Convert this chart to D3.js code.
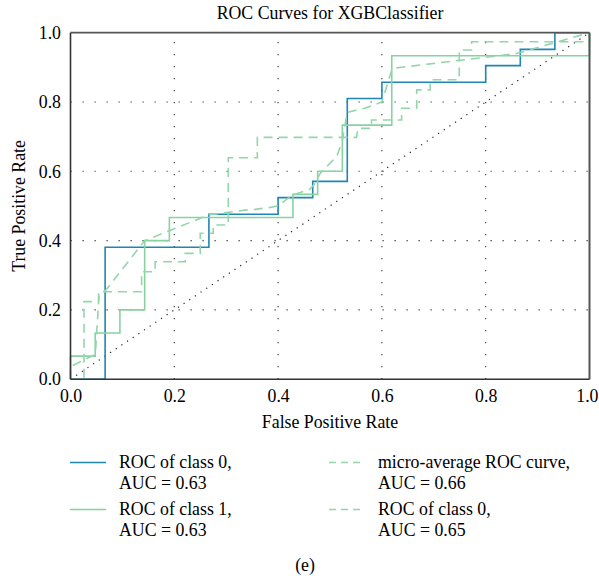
<!DOCTYPE html>
<html>
<head>
<meta charset="utf-8">
<script src="https://cdn.jsdelivr.net/npm/d3@7"></script>
<style>
  html, body { margin: 0; padding: 0; background: #fff; }
  svg { display: block; font-family: "Liberation Serif", "DejaVu Serif", serif; }
</style>
</head>
<body>
<svg id="chart" width="599" height="578"></svg>
<script>
// ---- data ----
const title = "ROC Curves for XGBClassifier";
const xLabel = "False Positive Rate";
const yLabel = "True Positive Rate";
const caption = "(e)";
const tickValues = [0.0, 0.2, 0.4, 0.6, 0.8, 1.0];
const gridValues = [0.2, 0.4, 0.6, 0.8];

const class0Fpr = [0, 0.0667, 0.0667, 0.2667, 0.2667, 0.4, 0.4, 0.4667, 0.4667, 0.5333, 0.5333, 0.6, 0.6, 0.8, 0.8, 0.8667, 0.8667, 0.9333, 0.9333, 1.0];
const class0Tpr = [0, 0, 0.381, 0.381, 0.476, 0.476, 0.524, 0.524, 0.571, 0.571, 0.810, 0.810, 0.857, 0.857, 0.905, 0.905, 0.952, 0.952, 1.0, 1.0];

const class1Fpr = [0, 0, 0.0476, 0.0476, 0.0952, 0.0952, 0.1429, 0.1429, 0.1905, 0.1905, 0.4286, 0.4286, 0.4762, 0.4762, 0.5238, 0.5238, 0.619, 0.619, 1.0, 1.0];
const class1Tpr = [0, 0.0667, 0.0667, 0.1333, 0.1333, 0.2, 0.2, 0.4, 0.4, 0.4667, 0.4667, 0.5333, 0.5333, 0.6, 0.6, 0.7333, 0.7333, 0.9333, 0.9333, 1.0];

const microFpr = [0, 0, 0.025, 0.046, 0.048, 0.055, 0.068, 0.143, 0.266, 0.336, 0.356, 0.385, 0.40, 0.426, 0.461, 0.471, 0.481, 0.503, 0.513, 0.524, 0.533, 0.538, 0.567, 0.60, 0.62, 0.86, 1.0];
const microTpr = [0, 0.036, 0.055, 0.07, 0.075, 0.243, 0.257, 0.40, 0.474, 0.488, 0.49, 0.496, 0.50, 0.53, 0.548, 0.565, 0.594, 0.628, 0.642, 0.69, 0.77, 0.772, 0.782, 0.80, 0.897, 0.94, 1.0];

const macroFpr = [0, 0.026, 0.026, 0.054, 0.054, 0.137, 0.137, 0.163, 0.163, 0.221, 0.221, 0.25, 0.25, 0.275, 0.275, 0.304, 0.304, 0.36, 0.36, 0.551, 0.554, 0.58, 0.58, 0.638, 0.638, 0.667, 0.667, 0.693, 0.693, 0.749, 0.749, 0.773, 0.773, 1.0, 1.0];
const macroTpr = [0, 0, 0.224, 0.224, 0.2525, 0.2525, 0.31, 0.31, 0.339, 0.339, 0.363, 0.363, 0.421, 0.421, 0.445, 0.445, 0.639, 0.639, 0.698, 0.698, 0.724, 0.724, 0.748, 0.748, 0.782, 0.782, 0.835, 0.835, 0.864, 0.864, 0.95, 0.95, 0.974, 0.974, 1.0];

const diagonal = [0, 1];

const seriesNames = ["ROC of class 0,", "ROC of class 1,", "micro-average ROC curve,", "ROC of class 0,"];
const seriesAuc = ["AUC = 0.63", "AUC = 0.63", "AUC = 0.66", "AUC = 0.65"];

// ---- styles ----
const BLUE = "#1f86b3";
const GREEN = "#88d2a2";
const GREEN_D = "#93d6aa";
const FS = 17.8;

const svg = d3.select("#chart");
svg.append("rect").attr("width", 599).attr("height", 578).attr("fill", "#fff");

const x = d3.scaleLinear().domain([0, 1]).range([70.5, 589.5]);
const y = d3.scaleLinear().domain([0, 1]).range([379.2, 32.7]);

// grid
const grid = svg.append("g");
grid.selectAll("line.v").data(gridValues).enter().append("line")
  .attr("x1", d => x(d)).attr("x2", d => x(d))
  .attr("y1", y(0)).attr("y2", y(1))
  .attr("stroke", "#333").attr("stroke-width", 1.1)
  .attr("stroke-dasharray", "1.2,10.8");
grid.selectAll("line.h").data(gridValues).enter().append("line")
  .attr("y1", d => y(d)).attr("y2", d => y(d))
  .attr("x1", x(0)).attr("x2", x(1))
  .attr("stroke", "#333").attr("stroke-width", 1.1)
  .attr("stroke-dasharray", "1.2,10.8");

// diagonal
svg.append("line")
  .attr("x1", x(diagonal[0])).attr("y1", y(diagonal[0]))
  .attr("x2", x(diagonal[1])).attr("y2", y(diagonal[1]))
  .attr("stroke", "#222").attr("stroke-width", 1.2)
  .attr("stroke-dasharray", "1.2,5.6");

const line = d3.line().x(d => x(d[0])).y(d => y(d[1]));
function pts(fx, ty) { return fx.map((v, i) => [v, ty[i]]); }

const curves = [
  { data: pts(class0Fpr, class0Tpr), color: BLUE, dash: null, w: 1.6 },
  { data: pts(class1Fpr, class1Tpr), color: GREEN, dash: null, w: 1.6 },
  { data: pts(microFpr, microTpr), color: GREEN_D, dash: "9,6", w: 1.6 },
  { data: pts(macroFpr, macroTpr), color: GREEN_D, dash: "9,6", w: 1.6 }
];
curves.forEach(c => {
  svg.append("path").attr("d", line(c.data))
    .attr("fill", "none").attr("stroke", c.color)
    .attr("stroke-width", c.w)
    .attr("stroke-dasharray", c.dash);
});

// frame
svg.append("line").attr("x1", x(0)).attr("x2", x(1)).attr("y1", y(1)).attr("y2", y(1))
  .attr("stroke", "#555").attr("stroke-width", 1.8);
svg.append("line").attr("x1", x(1)).attr("x2", x(1)).attr("y1", y(0)).attr("y2", y(1))
  .attr("stroke", "#555").attr("stroke-width", 2);
svg.append("line").attr("x1", x(0)).attr("x2", x(0)).attr("y1", y(0)).attr("y2", y(1))
  .attr("stroke", "#333").attr("stroke-width", 1.6);
svg.append("line").attr("x1", x(0)).attr("x2", x(1)).attr("y1", y(0)).attr("y2", y(0))
  .attr("stroke", "#333").attr("stroke-width", 1.6);

// axes (labels only)
const fmt = d3.format(".1f");
const xAxis = svg.append("g").attr("transform", `translate(0,${y(0)})`)
  .call(d3.axisBottom(x).tickValues(tickValues).tickFormat(fmt).tickSize(0).tickPadding(6));
xAxis.select(".domain").remove();
xAxis.selectAll("text").attr("font-size", FS).attr("font-family", "Liberation Serif").attr("fill", "#000")
  .attr("dy", null).attr("y", 22.5);
// keep the last label inside the picture (it touches the right edge in the reference)
xAxis.selectAll(".tick").filter(d => d === 1).select("text")
  .attr("text-anchor", "end").attr("x", 598 - x(1));

const yAxis = svg.append("g").attr("transform", `translate(${x(0)},0)`)
  .call(d3.axisLeft(y).tickValues(tickValues).tickFormat(fmt).tickSize(0).tickPadding(9.5));
yAxis.select(".domain").remove();
yAxis.selectAll("text").attr("font-size", FS).attr("font-family", "Liberation Serif").attr("fill", "#000")
  .attr("dy", "0.32em");

// title & labels
svg.append("text").attr("x", 330).attr("y", 19).attr("text-anchor", "middle")
  .attr("font-size", FS).attr("fill", "#000").text(title);
svg.append("text").attr("x", 330).attr("y", 428).attr("text-anchor", "middle")
  .attr("font-size", FS).attr("fill", "#000").text(xLabel);
svg.append("text").attr("transform", `translate(25,${(y(0) + y(1)) / 2}) rotate(-90)`)
  .attr("text-anchor", "middle").attr("font-size", FS).attr("fill", "#000").text(yLabel);

// legend
const legendPos = [
  { lx: 70, tx: 119, y0: 468 },
  { lx: 70, tx: 119, y0: 515 },
  { lx: 329, tx: 378, y0: 468 },
  { lx: 329, tx: 378, y0: 515 }
];
const legend = svg.append("g");
curves.forEach((c, i) => {
  const p = legendPos[i];
  legend.append("line").attr("x1", p.lx).attr("x2", p.lx + 36)
    .attr("y1", p.y0 - 5.5).attr("y2", p.y0 - 5.5)
    .attr("stroke", c.color).attr("stroke-width", 1.6)
    .attr("stroke-dasharray", c.dash ? "7,5" : null);
  legend.append("text").attr("x", p.tx).attr("y", p.y0).attr("font-size", FS).attr("fill", "#000")
    .text(seriesNames[i]);
  legend.append("text").attr("x", p.tx).attr("y", p.y0 + 21).attr("font-size", FS).attr("fill", "#000")
    .text(seriesAuc[i]);
});

svg.append("text").attr("x", 305).attr("y", 571).attr("text-anchor", "middle")
  .attr("font-size", FS).attr("fill", "#000").text(caption);
</script>
</body>
</html>
